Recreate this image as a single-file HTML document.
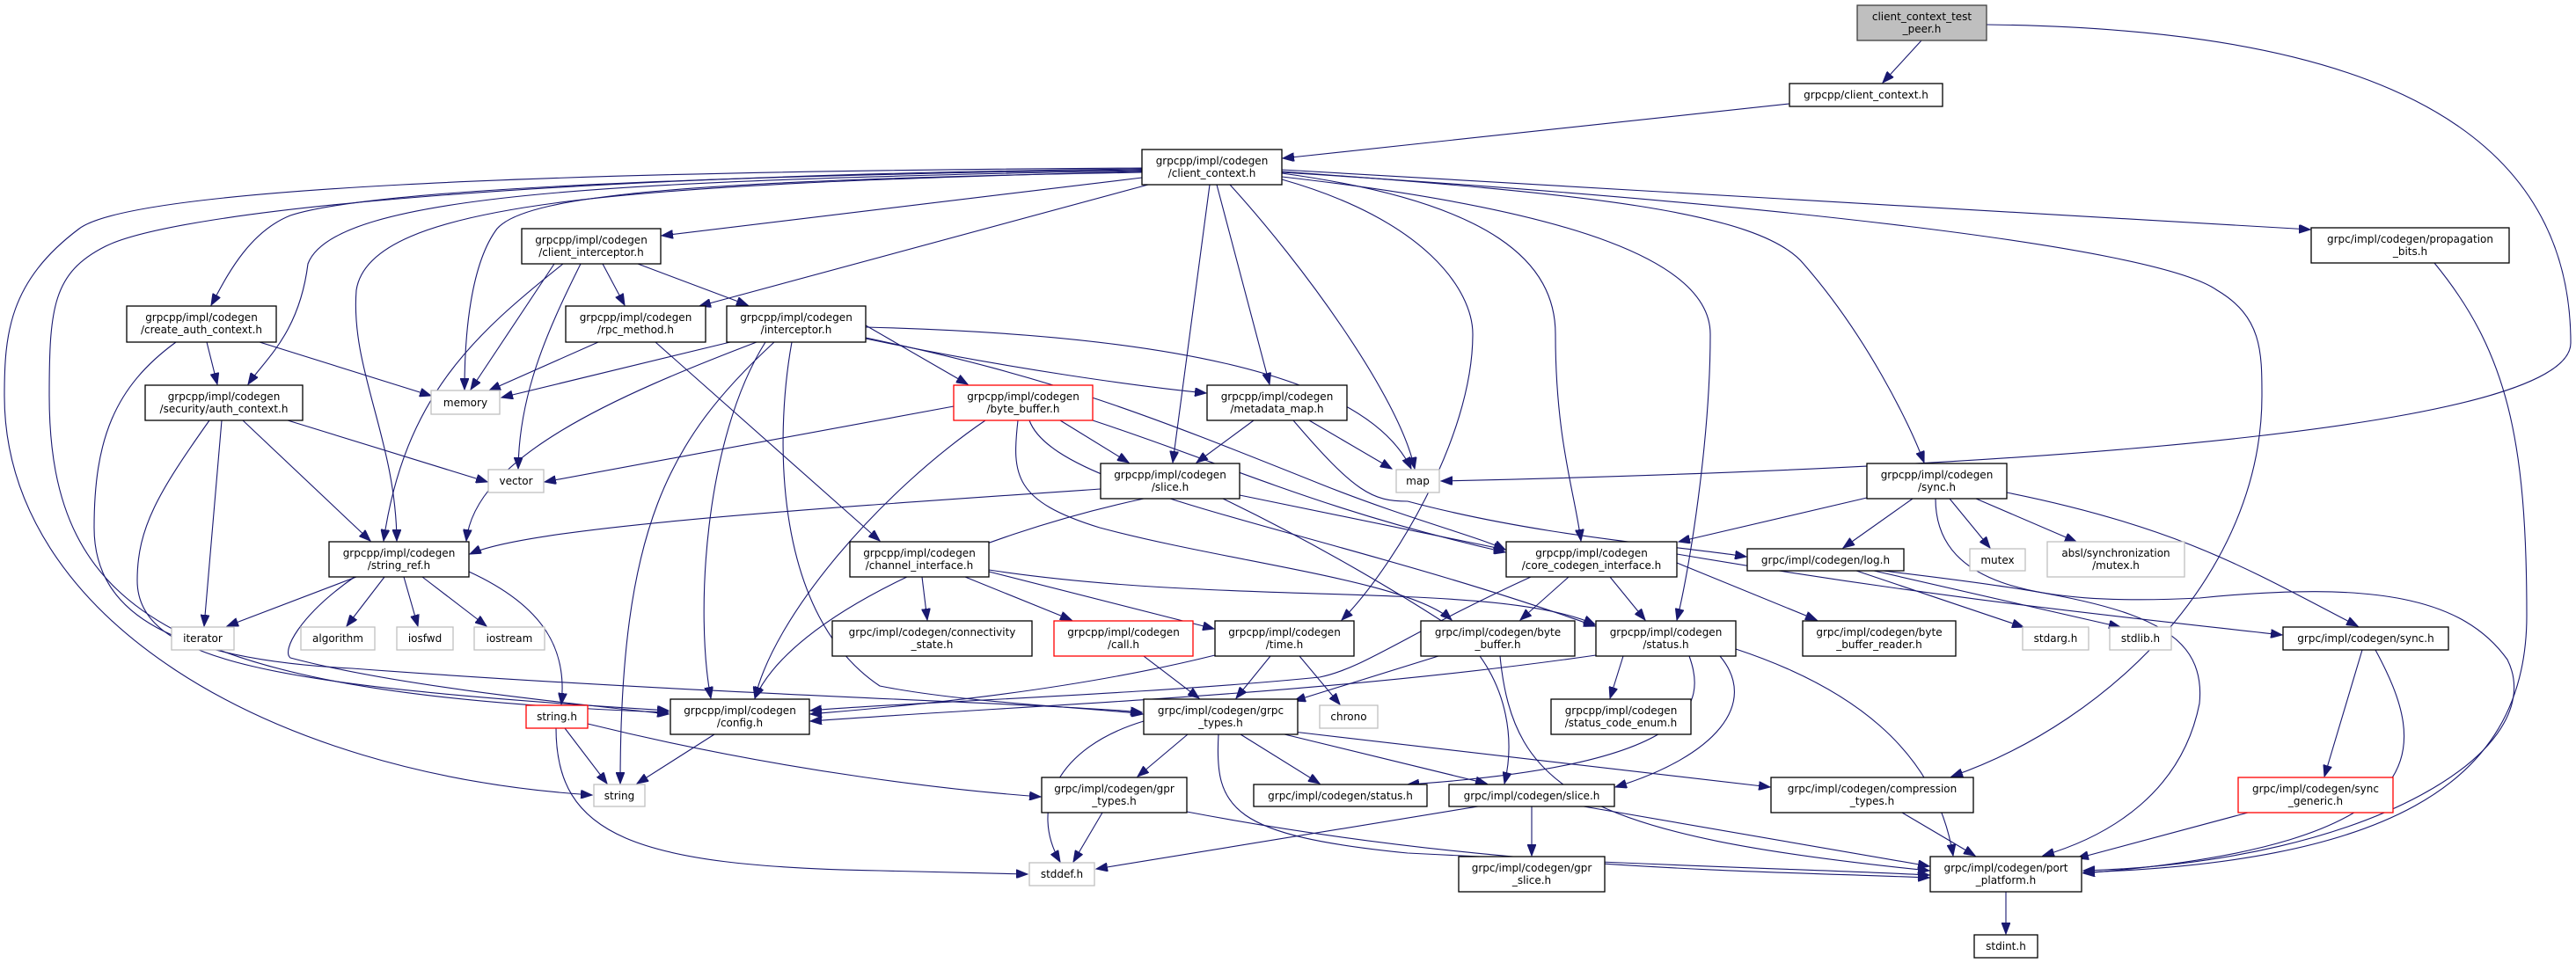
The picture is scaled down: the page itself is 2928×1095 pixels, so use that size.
<!DOCTYPE html>
<html><head><meta charset="utf-8"><style>
html,body{margin:0;padding:0;background:#fff;}
svg{display:block;}
text{font-family:"DejaVu Sans","Liberation Sans",sans-serif;font-size:12px;fill:#000;text-anchor:middle;}
.n{fill:#fff;stroke:#000;stroke-width:1.3;}
.g{fill:#fff;stroke:#bfbfbf;stroke-width:1.3;}
.r{fill:#fff;stroke:#ff0000;stroke-width:1.3;}
.e{fill:none;stroke:#191970;stroke-width:1.1;marker-end:url(#a);}
</style></head><body>
<svg width="2928" height="1095" viewBox="0 0 2928 1095" xmlns="http://www.w3.org/2000/svg">
<defs><marker id="a" markerUnits="userSpaceOnUse" markerWidth="14" markerHeight="10" refX="13" refY="5" orient="auto"><path d="M0,0 L13,5 L0,10 z" fill="#191970" stroke="#191970"/></marker></defs>
<g>
<path class="e" d="M2184,46 L2140,94"/>
<path class="e" d="M2258,28 C2600,32 2922,100 2922,390 C2922,480 2400,530 1638,547"/>
<path class="e" d="M2034,118 L1458,180"/>
<path class="e" d="M1298,202 L752,268"/>
<path class="e" d="M1298,193 C800,200 420,215 330,245 C280,265 255,320 240,347"/>
<path class="e" d="M1298,194 C700,205 380,220 350,300 C340,380 300,410 282,437"/>
<path class="e" d="M1298,195 C700,210 420,230 405,330 C398,420 450,500 451,615"/>
<path class="e" d="M640,300 C540,380 460,450 436,615"/>
<path class="e" d="M276,478 L421,615"/>
<path class="e" d="M1298,196 C800,205 600,220 565,260 C535,300 528,380 528,443"/>
<path class="e" d="M630,300 L535,443"/>
<path class="e" d="M1305,210 L795,348"/>
<path class="e" d="M1375,210 L1333,526"/>
<path class="e" d="M1383,210 L1443,437"/>
<path class="e" d="M1398,210 C1480,300 1590,450 1608,533"/>
<path class="e" d="M1457,204 C1620,250 1674,330 1674,380 C1674,500 1580,650 1525,705"/>
<path class="e" d="M1457,197 C1700,230 1768,300 1768,380 C1768,500 1790,560 1797,615"/>
<path class="e" d="M1457,201 C1800,240 1944,300 1944,380 C1944,500 1920,650 1906,705"/>
<path class="e" d="M1457,195 C1800,220 2000,240 2050,300 C2120,380 2170,480 2187,526"/>
<path class="e" d="M1457,193 L2626,261"/>
<path class="e" d="M1457,196 C2000,230 2450,280 2520,330 C2571,360 2571,400 2571,450 C2571,650 2400,820 2218,883"/>
<path class="e" d="M1298,192 C600,200 200,240 120,280 C60,310 56,350 56,450 C56,700 200,790 760,810"/>
<path class="e" d="M1298,191 C600,195 150,215 90,260 C10,320 5,380 5,450 C5,700 300,880 673,904"/>
<path class="e" d="M200,389 C130,440 107,500 107,600 C107,700 200,750 400,760 C800,790 1200,800 1298,810"/>
<path class="e" d="M238,478 C180,560 156,600 156,660 C156,750 300,780 760,808"/>
<path class="e" d="M830,389 L570,452"/>
<path class="e" d="M860,389 C700,450 540,520 530,615"/>
<path class="e" d="M880,389 C760,500 705,600 705,891"/>
<path class="e" d="M870,389 C800,500 790,700 808,794"/>
<path class="e" d="M900,389 C880,500 880,700 1000,780 C1100,800 1250,805 1299,812"/>
<path class="e" d="M984,370 L1100,437"/>
<path class="e" d="M984,385 C1150,420 1300,440 1371,447"/>
<path class="e" d="M984,372 C1300,380 1550,420 1604,533"/>
<path class="e" d="M984,384 C1200,430 1300,470 1500,550 C1600,590 1680,610 1711,625"/>
<path class="e" d="M680,389 L556,444"/>
<path class="e" d="M745,389 L1000,615"/>
<path class="e" d="M660,300 C620,380 590,450 589,533"/>
<path class="e" d="M685,300 L710,347"/>
<path class="e" d="M725,300 L850,347"/>
<path class="e" d="M295,389 L490,450"/>
<path class="e" d="M235,389 L247,437"/>
<path class="e" d="M327,478 L554,548"/>
<path class="e" d="M252,478 L232,712"/>
<path class="e" d="M405,656 L258,712"/>
<path class="e" d="M437,656 L394,712"/>
<path class="e" d="M459,656 L475,712"/>
<path class="e" d="M480,656 L553,712"/>
<path class="e" d="M533,650 C620,690 645,740 638,801"/>
<path class="e" d="M403,656 C340,700 320,740 330,748 C450,780 650,800 760,812"/>
<path class="e" d="M642,828 L690,891"/>
<path class="e" d="M632,828 C632,950 720,985 1000,990 L1168,994"/>
<path class="e" d="M668,823 C900,880 1100,900 1183,906"/>
<path class="e" d="M812,835 L724,891"/>
<path class="e" d="M1084,462 L619,548"/>
<path class="e" d="M1205,478 L1283,526"/>
<path class="e" d="M1120,478 C1000,560 880,700 858,794"/>
<path class="e" d="M1242,478 C1400,530 1500,580 1711,628"/>
<path class="e" d="M1170,478 C1200,560 1500,600 1813,712"/>
<path class="e" d="M1157,478 C1150,540 1152,570 1250,600 C1400,640 1600,660 1650,705"/>
<path class="e" d="M1425,478 L1360,526"/>
<path class="e" d="M1488,478 L1582,533"/>
<path class="e" d="M1470,478 C1540,560 1560,570 1600,570 C1750,610 1900,620 1985,633"/>
<path class="e" d="M1251,556 C900,580 600,600 534,630"/>
<path class="e" d="M1300,567 C1100,610 900,700 858,794"/>
<path class="e" d="M1409,563 L1711,625"/>
<path class="e" d="M1390,567 C1500,620 1600,680 1660,720 C1720,780 1720,850 1710,891"/>
<path class="e" d="M1048,656 L1054,705"/>
<path class="e" d="M1097,656 L1218,705"/>
<path class="e" d="M1124,650 L1380,715"/>
<path class="e" d="M1124,648 C1400,690 1700,660 1813,710"/>
<path class="e" d="M1300,746 L1363,794"/>
<path class="e" d="M1444,746 L1405,794"/>
<path class="e" d="M1477,746 L1523,801"/>
<path class="e" d="M1381,745 C1200,790 1000,805 921,812"/>
<path class="e" d="M1635,746 L1471,797"/>
<path class="e" d="M1705,746 C1720,900 1800,950 2193,990"/>
<path class="e" d="M1845,746 L1830,794"/>
<path class="e" d="M1814,745 C1500,790 1200,800 921,820"/>
<path class="e" d="M1920,746 C1940,800 1930,870 1600,892"/>
<path class="e" d="M1955,746 C2000,800 1950,860 1836,895"/>
<path class="e" d="M1973,738 C2100,780 2200,850 2220,973"/>
<path class="e" d="M1740,656 C1600,720 1550,760 1500,770 C1300,790 1000,800 921,808"/>
<path class="e" d="M1783,656 L1728,705"/>
<path class="e" d="M1830,656 L1870,705"/>
<path class="e" d="M1906,640 L2065,705"/>
<path class="e" d="M1906,630 C2200,680 2400,700 2594,722"/>
<path class="e" d="M1350,835 L1293,883"/>
<path class="e" d="M1410,835 L1500,891"/>
<path class="e" d="M1460,835 L1690,891"/>
<path class="e" d="M1470,832 L2012,895"/>
<path class="e" d="M1300,820 C1200,850 1170,920 1205,980"/>
<path class="e" d="M1385,835 C1380,920 1400,950 1600,970 C1900,985 2100,990 2193,995"/>
<path class="e" d="M1253,924 L1220,980"/>
<path class="e" d="M1349,923 C1700,990 2000,990 2193,998"/>
<path class="e" d="M1680,917 L1246,988"/>
<path class="e" d="M1741,917 L1741,973"/>
<path class="e" d="M1800,917 L2193,985"/>
<path class="e" d="M2162,924 L2245,973"/>
<path class="e" d="M2122,566 L1908,616"/>
<path class="e" d="M2174,567 L2095,623"/>
<path class="e" d="M2216,567 L2262,623"/>
<path class="e" d="M2246,567 L2360,616"/>
<path class="e" d="M2281,560 C2480,600 2560,650 2680,712"/>
<path class="e" d="M2200,567 C2200,660 2300,690 2500,680 C2700,660 2800,680 2850,750 C2900,850 2700,980 2368,990"/>
<path class="e" d="M2110,649 L2300,713"/>
<path class="e" d="M2130,649 L2410,713"/>
<path class="e" d="M2140,649 C2400,680 2510,700 2500,800 C2480,900 2400,950 2322,973"/>
<path class="e" d="M2685,739 L2642,883"/>
<path class="e" d="M2700,739 C2760,850 2780,960 2368,993"/>
<path class="e" d="M2555,924 L2361,976"/>
<path class="e" d="M2767,299 C2850,400 2872,500 2872,700 C2872,900 2700,980 2368,992"/>
<path class="e" d="M2280,1014 L2280,1062"/>
</g>
<g>
<rect x="2111" y="6" width="147" height="40" style="fill:#bfbfbf;stroke:#404040;stroke-width:1.3"/><text x="2184.5" y="23">client_context_test</text><text x="2184.5" y="37">_peer.h</text>
<rect class="n" x="2034" y="95" width="174" height="26"/><text x="2121" y="112">grpcpp/client_context.h</text>
<rect class="n" x="1298" y="170" width="159" height="40"/><text x="1377.5" y="187">grpcpp/impl/codegen</text><text x="1377.5" y="201">/client_context.h</text>
<rect class="n" x="593" y="260" width="158" height="40"/><text x="672" y="277">grpcpp/impl/codegen</text><text x="672" y="291">/client_interceptor.h</text>
<rect class="n" x="144" y="348" width="170" height="41"/><text x="229" y="365">grpcpp/impl/codegen</text><text x="229" y="379">/create_auth_context.h</text>
<rect class="n" x="643" y="348" width="159" height="41"/><text x="722.5" y="365">grpcpp/impl/codegen</text><text x="722.5" y="379">/rpc_method.h</text>
<rect class="n" x="826" y="348" width="158" height="41"/><text x="905" y="365">grpcpp/impl/codegen</text><text x="905" y="379">/interceptor.h</text>
<rect class="n" x="165" y="438" width="179" height="40"/><text x="254.5" y="455">grpcpp/impl/codegen</text><text x="254.5" y="469">/security/auth_context.h</text>
<rect class="g" x="490" y="444" width="78" height="27"/><text x="529" y="462">memory</text>
<rect class="g" x="555" y="534" width="63" height="26"/><text x="586.5" y="551">vector</text>
<rect class="r" x="1084" y="438" width="158" height="40"/><text x="1163" y="455">grpcpp/impl/codegen</text><text x="1163" y="469">/byte_buffer.h</text>
<rect class="n" x="1372" y="438" width="159" height="40"/><text x="1451.5" y="455">grpcpp/impl/codegen</text><text x="1451.5" y="469">/metadata_map.h</text>
<rect class="n" x="1251" y="527" width="158" height="40"/><text x="1330" y="544">grpcpp/impl/codegen</text><text x="1330" y="558">/slice.h</text>
<rect class="g" x="1587" y="534" width="49" height="26"/><text x="1611.5" y="551">map</text>
<rect class="n" x="2122" y="527" width="159" height="40"/><text x="2201.5" y="544">grpcpp/impl/codegen</text><text x="2201.5" y="558">/sync.h</text>
<rect class="n" x="2627" y="259" width="225" height="40"/><text x="2739.5" y="276">grpc/impl/codegen/propagation</text><text x="2739.5" y="290">_bits.h</text>
<rect class="n" x="374" y="616" width="159" height="40"/><text x="453.5" y="633">grpcpp/impl/codegen</text><text x="453.5" y="647">/string_ref.h</text>
<rect class="n" x="966" y="616" width="158" height="40"/><text x="1045" y="633">grpcpp/impl/codegen</text><text x="1045" y="647">/channel_interface.h</text>
<rect class="n" x="1712" y="616" width="194" height="40"/><text x="1809" y="633">grpcpp/impl/codegen</text><text x="1809" y="647">/core_codegen_interface.h</text>
<rect class="n" x="1986" y="624" width="178" height="25"/><text x="2075" y="641">grpc/impl/codegen/log.h</text>
<rect class="g" x="2239" y="624" width="63" height="25"/><text x="2270.5" y="641">mutex</text>
<rect class="g" x="2327" y="616" width="156" height="40"/><text x="2405" y="633">absl/synchronization</text><text x="2405" y="647">/mutex.h</text>
<rect class="g" x="195" y="713" width="71" height="26"/><text x="230.5" y="730">iterator</text>
<rect class="g" x="342" y="713" width="84" height="26"/><text x="384" y="730">algorithm</text>
<rect class="g" x="451" y="713" width="64" height="26"/><text x="483" y="730">iosfwd</text>
<rect class="g" x="539" y="713" width="80" height="26"/><text x="579" y="730">iostream</text>
<rect class="n" x="946" y="706" width="227" height="40"/><text x="1059.5" y="723">grpc/impl/codegen/connectivity</text><text x="1059.5" y="737">_state.h</text>
<rect class="r" x="1198" y="706" width="158" height="40"/><text x="1277" y="723">grpcpp/impl/codegen</text><text x="1277" y="737">/call.h</text>
<rect class="n" x="1381" y="706" width="158" height="40"/><text x="1460" y="723">grpcpp/impl/codegen</text><text x="1460" y="737">/time.h</text>
<rect class="n" x="1615" y="706" width="175" height="40"/><text x="1702.5" y="723">grpc/impl/codegen/byte</text><text x="1702.5" y="737">_buffer.h</text>
<rect class="n" x="1814" y="706" width="159" height="40"/><text x="1893.5" y="723">grpcpp/impl/codegen</text><text x="1893.5" y="737">/status.h</text>
<rect class="n" x="2049" y="706" width="174" height="40"/><text x="2136" y="723">grpc/impl/codegen/byte</text><text x="2136" y="737">_buffer_reader.h</text>
<rect class="g" x="2299" y="713" width="75" height="26"/><text x="2336.5" y="730">stdarg.h</text>
<rect class="g" x="2398" y="713" width="70" height="26"/><text x="2433" y="730">stdlib.h</text>
<rect class="n" x="2595" y="713" width="188" height="26"/><text x="2689" y="730">grpc/impl/codegen/sync.h</text>
<rect class="r" x="598" y="802" width="70" height="26"/><text x="633" y="819">string.h</text>
<rect class="n" x="762" y="795" width="158" height="40"/><text x="841" y="812">grpcpp/impl/codegen</text><text x="841" y="826">/config.h</text>
<rect class="n" x="1300" y="795" width="175" height="40"/><text x="1387.5" y="812">grpc/impl/codegen/grpc</text><text x="1387.5" y="826">_types.h</text>
<rect class="g" x="1500" y="802" width="66" height="26"/><text x="1533" y="819">chrono</text>
<rect class="n" x="1763" y="795" width="159" height="40"/><text x="1842.5" y="812">grpcpp/impl/codegen</text><text x="1842.5" y="826">/status_code_enum.h</text>
<rect class="g" x="675" y="892" width="58" height="25"/><text x="704" y="909">string</text>
<rect class="n" x="1184" y="884" width="165" height="40"/><text x="1266.5" y="901">grpc/impl/codegen/gpr</text><text x="1266.5" y="915">_types.h</text>
<rect class="n" x="1425" y="892" width="197" height="25"/><text x="1523.5" y="909">grpc/impl/codegen/status.h</text>
<rect class="n" x="1647" y="892" width="188" height="25"/><text x="1741" y="909">grpc/impl/codegen/slice.h</text>
<rect class="n" x="2013" y="884" width="230" height="40"/><text x="2128" y="901">grpc/impl/codegen/compression</text><text x="2128" y="915">_types.h</text>
<rect class="r" x="2544" y="884" width="176" height="40"/><text x="2632" y="901">grpc/impl/codegen/sync</text><text x="2632" y="915">_generic.h</text>
<rect class="g" x="1170" y="981" width="74" height="26"/><text x="1207" y="998">stddef.h</text>
<rect class="n" x="1658" y="974" width="166" height="40"/><text x="1741" y="991">grpc/impl/codegen/gpr</text><text x="1741" y="1005">_slice.h</text>
<rect class="n" x="2194" y="974" width="172" height="40"/><text x="2280" y="991">grpc/impl/codegen/port</text><text x="2280" y="1005">_platform.h</text>
<rect class="n" x="2244" y="1063" width="72" height="26"/><text x="2280" y="1080">stdint.h</text>
</g>
</svg>
</body></html>
